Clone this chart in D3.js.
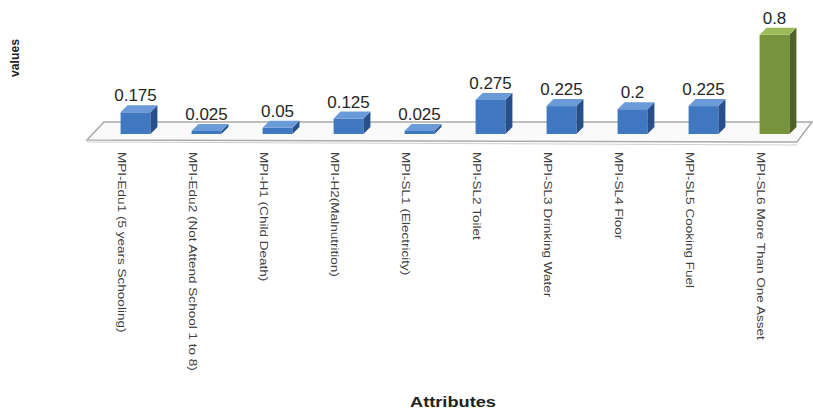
<!DOCTYPE html>
<html>
<head>
<meta charset="utf-8">
<script src="https://cdn.jsdelivr.net/npm/d3@7"></script>
<style>
  body { margin: 0; background: #fff; }
  text { font-family: "Liberation Sans", Arial, sans-serif; }
</style>
</head>
<body>
<div id="chart"></div>
<script>
// chart data
let categories = [
    "MPI-Edu1 (5 years Schooling)",
    "MPI-Edu2 (Not Attend School 1 to 8)",
    "MPI-H1 (Child Death)",
    "MPI-H2(Malnutrition)",
    "MPI-SL1 (Electricity)",
    "MPI-SL2 Toilet",
    "MPI-SL3 Drinking Water",
    "MPI-SL4 Floor",
    "MPI-SL5 Cooking Fuel",
    "MPI-SL6 More Than One Asset"
];
let values = [0.175, 0.025, 0.05, 0.125, 0.025, 0.275, 0.225, 0.2, 0.225, 0.8];
let valueLabels = ["0.175", "0.025", "0.05", "0.125", "0.025", "0.275", "0.225", "0.2", "0.225", "0.8"];

let width = 813;
let height = 412;

// floor / depth geometry
let baseY = 134;     // front-bottom of bars
let depthX = 7;
let depthY = 7;

let svg = d3.select("#chart")
    .append("svg")
    .attr("width", width)
    .attr("height", height);

let x = d3.scaleBand()
    .domain(categories)
    .range([100, 810])
    .paddingInner(0.58)
    .paddingOuter(0.29);

let y = d3.scaleLinear()
    .domain([0, 1])
    .range([baseY, baseY - 124]);

// floor
let floorPts = [[87, 140], [104, 122], [812, 122], [797, 142]];
svg.append("polygon")
    .attr("points", floorPts.map(p => p.join(",")).join(" "))
    .attr("fill", "#fafafa")
    .attr("stroke", "#ababab")
    .attr("stroke-width", 1.5);
svg.append("line")
    .attr("x1", 87).attr("y1", 142)
    .attr("x2", 797).attr("y2", 145)
    .attr("stroke", "#d0d0d0")
    .attr("stroke-width", 1);

function colorsFor(i) {
    if (i === values.length - 1) {
        return { front: "#77933c", side: "#4f6228", top: "#9bbb59" };
    }
    return { front: "#3f78c0", side: "#27508a", top: "#6a9ad8" };
}

let bars = svg.selectAll("g.bar")
    .data(values)
    .join("g")
    .attr("class", "bar");

bars.each(function (d, i) {
    let g = d3.select(this);
    let c = colorsFor(i);
    let x0 = x(categories[i]);
    let w = x.bandwidth();
    let yTop = y(d);
    let h = Math.max(baseY - yTop, 1.5);
    yTop = baseY - h;

    // front face
    g.append("rect")
        .attr("x", x0)
        .attr("y", yTop)
        .attr("width", w)
        .attr("height", h)
        .attr("fill", c.front);

    // side face
    g.append("polygon")
        .attr("points", [
            [x0 + w, yTop], [x0 + w + depthX, yTop - depthY],
            [x0 + w + depthX, baseY - depthY], [x0 + w, baseY]
        ].map(p => p.join(",")).join(" "))
        .attr("fill", c.side);

    // top face
    g.append("polygon")
        .attr("points", [
            [x0, yTop], [x0 + depthX, yTop - depthY],
            [x0 + w + depthX, yTop - depthY], [x0 + w, yTop]
        ].map(p => p.join(",")).join(" "))
        .attr("fill", c.top);

    // value label
    g.append("text")
        .attr("x", x0 + w / 2)
        .attr("y", yTop - depthY - 4)
        .attr("text-anchor", "middle")
        .style("font-size", "17px")
        .style("fill", "#262626")
        .text(valueLabels[i]);
});

// category labels, rotated (stretched along the reading direction)
svg.selectAll("text.cat")
    .data(categories)
    .join("text")
    .attr("class", "cat")
    .attr("transform", d => `translate(${x(d) + x.bandwidth() / 2 - 14},152) rotate(90) scale(1.23,1)`)
    .attr("dy", "0.35em")
    .style("font-size", "11px")
    .style("fill", "#404040")
    .text(d => d);

// axis titles
svg.append("text")
    .attr("transform", "translate(19,58) rotate(-90)")
    .attr("text-anchor", "middle")
    .attr("textLength", 38)
    .attr("lengthAdjust", "spacingAndGlyphs")
    .style("font-size", "13px")
    .style("font-weight", "bold")
    .style("fill", "#222")
    .text("values");

svg.append("text")
    .attr("x", 453)
    .attr("y", 407)
    .attr("text-anchor", "middle")
    .attr("textLength", 86)
    .attr("lengthAdjust", "spacingAndGlyphs")
    .style("font-size", "14px")
    .style("font-weight", "bold")
    .style("fill", "#222")
    .text("Attributes");
</script>
</body>
</html>
